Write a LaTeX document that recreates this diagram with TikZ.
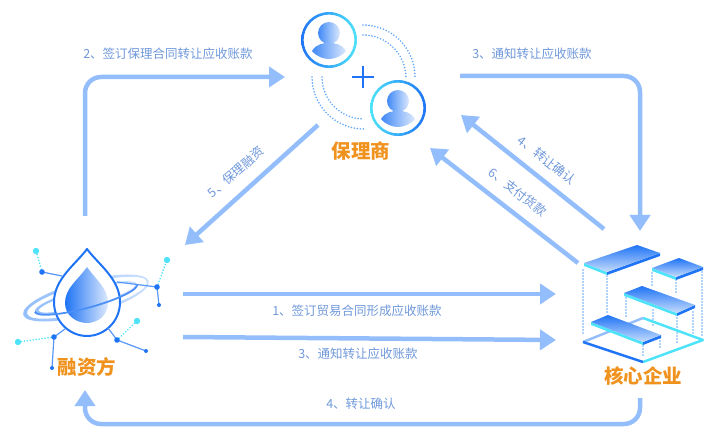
\documentclass[tikz,border=0pt]{standalone}
\usepackage{fontspec}
\setmainfont{Noto Sans CJK SC}
\usetikzlibrary{arrows.meta}
\definecolor{flowblue}{HTML}{93BEFB}
\definecolor{textblue}{HTML}{6F98DA}
\definecolor{deepblue}{HTML}{1F74F5}
\definecolor{paleblue}{HTML}{DCE9FD}
\definecolor{skycyan}{HTML}{4FE3FA}
\definecolor{dotblue}{HTML}{62A8F8}
\definecolor{titleorange}{HTML}{F0921E}
\tikzset{
    flow/.style={draw=flowblue, line width=4.5pt, rounded corners=16pt, -{Triangle[width=20pt,length=16pt]}},
    flowlabel/.style={text=textblue, font=\fontsize{12.5}{13}\selectfont, inner sep=0pt},
    title/.style={text=titleorange, font=\fontsize{19.5}{20}\bfseries\selectfont, inner sep=0pt},
    dots/.style={draw=#1, line width=1.8pt, line cap=round, dash pattern=on 0pt off 3pt},
    dots/.default=dotblue,
    link/.style={draw=deepblue!75, line width=1.2pt},
    plate/.style={left color=deepblue, right color=paleblue!70!flowblue, shading angle=0},
}
\newcommand{\personicon}[3]{% centre, ring colours
    \begin{scope}[shift={(#1)}]
        \shade[left color=#2, right color=#3, even odd rule] (0,0) circle (28) circle (25.4);
        \shade[left color=deepblue!85, right color=paleblue] (0,-7) circle (11);
        \shade[left color=deepblue!85, right color=paleblue]
            (-17,11) .. controls (-12,3) and (-6,4) .. (0,2)
            .. controls (6,4) and (12,3) .. (17,11)
            .. controls (12,17) and (5,19) .. (0,19)
            .. controls (-5,19) and (-12,17) .. (-17,11) -- cycle;
    \end{scope}
}
\begin{document}
\begin{tikzpicture}[x=1pt,y=-1pt]
    \useasboundingbox (0,0) rectangle (728,443);

    % factoring side
    \personicon{329,40}{deepblue}{skycyan}
    \personicon{398,108}{skycyan}{deepblue}
    \draw[deepblue, line width=2.2pt] (352,77) -- (374,77) (363,66) -- (363,88);
    \draw[dots] (363,25) arc[start angle=90, end angle=0, radius=52pt];
    \draw[dots] (363,35) arc[start angle=90, end angle=0, radius=43pt];
    \draw[dots] (312,77) arc[start angle=180, end angle=270, radius=52pt];
    \draw[dots] (322,77) arc[start angle=180, end angle=270, radius=42pt];
    \node[title] (factor) at (361,151) {保理商};

    % financing side
    \begin{scope}[shift={(86,298)}, rotate=15]
        \shade[left color=flowblue, right color=paleblue!80!flowblue, even odd rule]
            (0,0) ellipse [x radius=65pt, y radius=17pt] (1,0) ellipse [x radius=62pt, y radius=14pt];
        \shade[left color=flowblue, right color=paleblue!80!flowblue, even odd rule]
            (0,0) ellipse [x radius=53pt, y radius=10pt] (1,0) ellipse [x radius=50pt, y radius=7.5pt];
    \end{scope}
    \fill[white] (87,249) .. controls (76,264) and (54,279) .. (54,302)
        .. controls (54,322) and (70,336) .. (87,336)
        .. controls (104,336) and (120,322) .. (120,302)
        .. controls (120,279) and (98,264) .. (87,249) -- cycle;
    \shade[left color=deepblue, right color=paleblue]
        (87,267) .. controls (78,280) and (65,288) .. (65,303)
        .. controls (65,315) and (76,323) .. (87,323)
        .. controls (98,323) and (108,315) .. (108,303)
        .. controls (108,288) and (96,280) .. (87,267) -- cycle;
    \draw[deepblue, line width=2pt, line join=round]
        (87,249) .. controls (76,264) and (54,279) .. (54,302)
        .. controls (54,322) and (70,336) .. (87,336)
        .. controls (104,336) and (120,322) .. (120,302)
        .. controls (120,279) and (98,264) .. (87,249) -- cycle;
    \begin{scope}[shift={(86,298)}, rotate=15]
        \draw[deepblue!80, line width=1.8pt] (-53,0) arc[start angle=180, end angle=360, x radius=53pt, y radius=10pt];
    \end{scope}
    \foreach \xa/\ya/\xb/\yb in {42/272/62/276, 117/282/157/287, 157/287/159/305, 54/337/65/329, 54/337/52/368, 117/340/108/328, 117/340/146/351}
        \draw[link] (\xa,\ya) -- (\xb,\yb);
    \foreach \xa/\ya/\xb/\yb in {42/272/36/251, 157/287/167/260, 54/337/18/342, 117/340/137/321}{
        \draw[dots=skycyan] (\xa,\ya) -- (\xb,\yb);
        \fill[skycyan] (\xb,\yb) circle (3.2);
    }
    \foreach \x/\y in {42/272, 157/287, 54/337, 117/340}
        \fill[deepblue] (\x,\y) circle (2.8);
    \foreach \x/\y in {159/305, 52/368, 146/351}
        \fill[deepblue] (\x,\y) circle (2);
    \node[title] (finance) at (87,367) {融资方};

    % core enterprise
    \foreach \x/\ya/\yb in {583/270/333, 607/273/313, 652/273/288, 676/280/295, 702/272/335, 626/298/318, 653/310/328, 677/315/343, 693/312/337, 643/343/358, 660/338/350}
        \draw[dots] (\x,\ya) -- (\x,\yb);
    \draw[skycyan, line width=2.5pt, line join=round] (643,318) -- (703,340) -- (643,362);
    \draw[flowblue, line width=2.5pt, line join=round] (583,342) -- (643,318);
    \draw[deepblue, line width=2.5pt, line join=round] (583,342) -- (643,362);
    \foreach \xa/\ya/\xb/\yb/\xc/\yc/\xd/\yd in {
        584/263/637/245/660/253/607/272,
        652/268/679/258/703/267/676/277,
        624/293/642/286/695/305/677/313,
        591/322/608/315/661/335/643/342}{
        \fill[skycyan] (\xa,\ya) -- (\xd,\yd) -- (\xd,\yd+3) -- (\xa,\ya+3) -- cycle;
        \fill[deepblue] (\xd,\yd) -- (\xc,\yc) -- (\xc,\yc+3) -- (\xd,\yd+3) -- cycle;
        \shade[plate] (\xa,\ya) -- (\xb,\yb) -- (\xc,\yc) -- (\xd,\yd) -- cycle;
    }
    \node[title] (core) at (643,376) {核心企业};

    % flows
    \coordinate (signstart) at (85,216);
    \coordinate (signend) at (285,77);
    \coordinate (noticestart) at (460,76);
    \coordinate (noticeend) at (640,231);
    \coordinate (fundstart) at (318,125);
    \coordinate (fundend) at (185,245);
    \coordinate (confirmstart) at (604,229);
    \coordinate (confirmend) at (461,115);
    \coordinate (paystart) at (578,263);
    \coordinate (payend) at (430,148);
    \coordinate (tradestart) at (183,294);
    \coordinate (tradeend) at (556,294);
    \coordinate (transferstart) at (183,337);
    \coordinate (transferend) at (556,340);
    \coordinate (backstart) at (640,398);
    \coordinate (backcornerr) at (640,424);
    \coordinate (backcornerl) at (85,424);
    \coordinate (backend) at (85,390);

    \draw[flow] (signstart) |- (signend);
    \draw[flow] (noticestart) -| (noticeend);
    \draw[flow] (fundstart) -- (fundend);
    \draw[flow] (confirmstart) -- (confirmend);
    \draw[flow] (paystart) -- (payend);
    \draw[flow] (tradestart) -- (tradeend);
    \draw[flow] (transferstart) -- (transferend);
    \draw[flow] (backstart) -- (backcornerr) -- (backcornerl) -- (backend);

    \node[flowlabel] (l2) at (168,54) {2、签订保理合同转让应收账款};
    \node[flowlabel] (l3) at (532,54) {3、通知转让应收账款};
    \node[flowlabel] (l5) at (236,172) [rotate=41] {5、保理融资};
    \node[flowlabel] (l4) at (547,160) [rotate=-38] {4、转让确认};
    \node[flowlabel] (l6) at (518,192) [rotate=-38] {6、支付货款};
    \node[flowlabel] (l1) at (357,311) {1、签订贸易合同形成应收账款};
    \node[flowlabel] (l3b) at (358,354) {3、通知转让应收账款};
    \node[flowlabel] (l4b) at (361,404) {4、转让确认};
\end{tikzpicture}
\end{document}
